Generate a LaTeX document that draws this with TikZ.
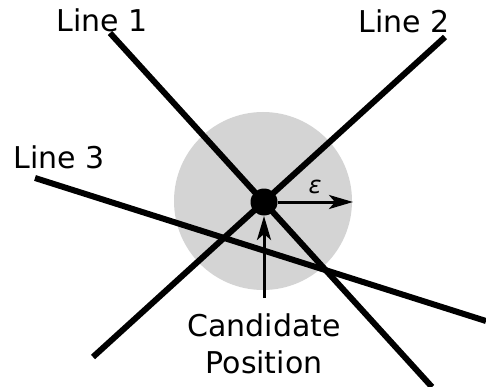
\documentclass[tikz,border=0pt]{standalone}
\usepackage{fontspec}
\setmainfont{DejaVu Sans}
\usetikzlibrary{arrows.meta}
\begin{document}
\begin{tikzpicture}[x=1pt,y=-1pt,
  lbl/.style={font=\fontsize{30}{36}\selectfont, anchor=base, inner sep=0pt},
  thick line/.style={line width=6pt},
  ptr/.style={line width=3pt, -{Stealth[length=24pt,width=14pt,inset=6pt]}}]
\useasboundingbox (0,0) rectangle (486,387);
\fill[black!17] (263,201) circle (89);
\coordinate (l1a) at (110,33);  \coordinate (l1b) at (432,387);
\coordinate (l2a) at (445,37);  \coordinate (l2b) at (93,357);
\coordinate (l3a) at (35,178);  \coordinate (l3b) at (486,321);
\draw[thick line] (l1a) -- (l1b);
\draw[thick line] (l2a) -- (l2b);
\draw[thick line] (l3a) -- (l3b);
\node[circle, fill=black, minimum size=27pt, inner sep=0pt] (dot) at (264,202) {};
\coordinate (eps) at (353,202);
\draw[ptr] (dot.east) -- (eps);
\node[font=\fontsize{24}{28}\selectfont\itshape, inner sep=0pt] (epslbl) at (315,187) {ε};
\node[lbl] (cand) at (264,336) {Candidate};
\node[lbl] (pos) at (264,373) {Position};
\coordinate (candtop) at (264,298);
\draw[ptr] (candtop) -- (264,216);
\node[lbl] (t1) at (102,32) {Line 1};
\node[lbl] (t2) at (404,33) {Line 2};
\node[lbl] (t3) at (59,168) {Line 3};
\end{tikzpicture}
\end{document}
